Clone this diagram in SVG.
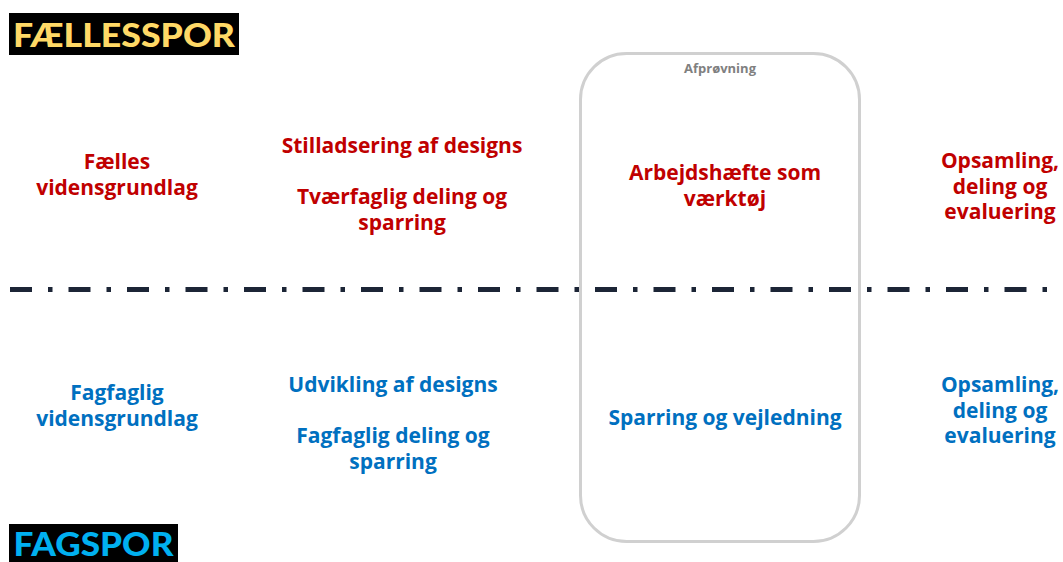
<svg xmlns="http://www.w3.org/2000/svg" width="1063" height="562" viewBox="0 0 1063 562">
<style>
.t{font-family:"Open Sans",Lato,"Liberation Sans",sans-serif;font-weight:bold;font-size:21px;text-anchor:middle}
.r{fill:#C00000}
.b{fill:#0070C0}
.title{font-family:Lato,"Liberation Sans",sans-serif;font-weight:900;font-size:33px}
</style>
<rect width="1063" height="562" fill="#ffffff"/>
<g id="fallesspor">
<rect x="9" y="13" width="230" height="42" fill="#000"/>
<text class="title" x="124" y="47" fill="#FFD966" text-anchor="middle" textLength="222" lengthAdjust="spacingAndGlyphs">FÆLLESSPOR</text>
</g>
<g id="fagspor">
<rect x="9" y="524" width="169" height="38" fill="#000"/>
<text class="title" x="93.5" y="556" fill="#00B0F0" text-anchor="middle" font-size="31" textLength="160" lengthAdjust="spacingAndGlyphs">FAGSPOR</text>
</g>
<g id="afproevning">
<rect x="580.5" y="53.5" width="279" height="488" rx="46" ry="46" fill="none" stroke="#D0D0D0" stroke-width="3"/>
<text x="720" y="73" style="font-family:'Open Sans',Lato,'Liberation Sans',sans-serif;font-weight:bold;font-size:13px;text-anchor:middle" fill="#808080">Afprøvning</text>
</g>
<g id="connectors">
<line x1="10" y1="289.5" x2="1052" y2="289.5" stroke="#1C2536" stroke-width="5" stroke-dasharray="22 16 4.5 16"/>
</g>
<g id="n1"><text class="t r" x="117" y="169">Fælles<tspan x="117" dy="26">vidensgrundlag</tspan></text></g>
<g id="n2"><text class="t r" x="402" y="153">Stilladsering af designs</text><text class="t r" x="402" y="204">Tværfaglig deling og<tspan x="402" dy="26">sparring</tspan></text></g>
<g id="n3"><text class="t r" x="725" y="180">Arbejdshæfte som<tspan x="725" dy="26">værktøj</tspan></text></g>
<g id="n4"><text class="t r" x="1000" y="168">Opsamling,<tspan x="1000" dy="25.5">deling og</tspan><tspan x="1000" dy="25.5">evaluering</tspan></text></g>
<g id="n5"><text class="t b" x="117" y="400">Fagfaglig<tspan x="117" dy="26">vidensgrundlag</tspan></text></g>
<g id="n6"><text class="t b" x="393" y="392">Udvikling af designs</text><text class="t b" x="393" y="443">Fagfaglig deling og<tspan x="393" dy="26">sparring</tspan></text></g>
<g id="n7"><text class="t b" x="725" y="425">Sparring og vejledning</text></g>
<g id="n8"><text class="t b" x="1000" y="392">Opsamling,<tspan x="1000" dy="25.5">deling og</tspan><tspan x="1000" dy="25.5">evaluering</tspan></text></g>
</svg>
